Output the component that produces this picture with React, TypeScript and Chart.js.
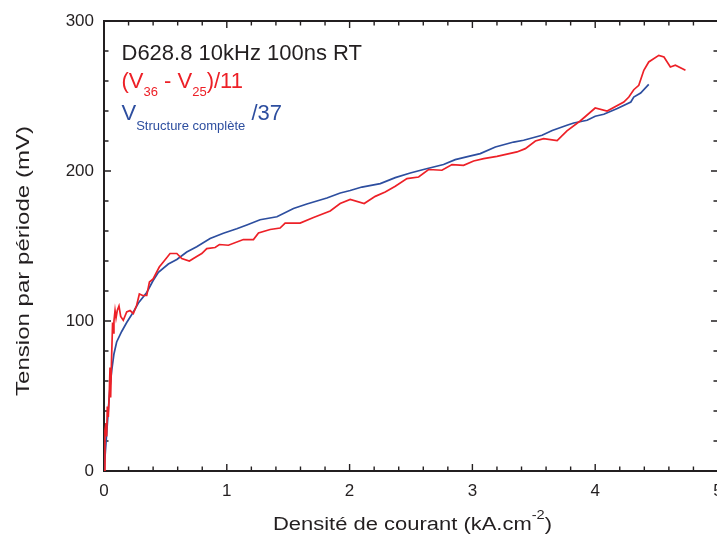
import React, { useEffect, useRef } from 'react';
import { Chart, registerables } from 'chart.js';

Chart.register(...registerables);

// ---- Data ----
const blueX = [0, 0.014, 0.027, 0.038, 0.049, 0.063, 0.081, 0.103, 0.144, 0.185, 0.239, 0.28, 0.348, 0.4, 0.443, 0.524, 0.593, 0.674, 0.755, 0.864, 0.972, 1.081, 1.163, 1.271, 1.408, 1.543, 1.652, 1.815, 1.924, 2.005, 2.1, 2.25, 2.372, 2.494, 2.602, 2.765, 2.86, 2.969, 3.064, 3.187, 3.336, 3.417, 3.567, 3.65, 3.77, 3.825, 3.934, 4.0, 4.07, 4.18, 4.29, 4.314, 4.37, 4.436];
const blueY = [0, 16, 31, 44, 56, 67, 78, 86, 93, 99, 106, 112, 119, 127, 132.5, 138, 141, 146, 149.5, 155, 158.5, 161.5, 164, 167.5, 169.5, 175, 178, 182, 185.3, 187, 189.3, 191.6, 195.6, 198.7, 201, 204.3, 207.6, 209.8, 211.6, 216, 219.3, 220.5, 223.8, 227, 230.5, 232, 233.8, 236.5, 237.8, 241.6, 246, 249.3, 252, 257.8];

const redX = [0, 0.008, 0.016, 0.022, 0.027, 0.035, 0.043, 0.049, 0.054, 0.062, 0.07, 0.075, 0.081, 0.09, 0.098, 0.108, 0.122, 0.136, 0.157, 0.185, 0.212, 0.239, 0.266, 0.288, 0.315, 0.348, 0.37, 0.4, 0.45, 0.483, 0.538, 0.593, 0.633, 0.695, 0.755, 0.796, 0.837, 0.905, 0.94, 1.013, 1.135, 1.217, 1.258, 1.353, 1.434, 1.475, 1.597, 1.706, 1.842, 1.923, 2.005, 2.119, 2.209, 2.29, 2.372, 2.467, 2.562, 2.643, 2.752, 2.834, 2.928, 3.01, 3.092, 3.2, 3.363, 3.431, 3.513, 3.58, 3.69, 3.77, 3.88, 4.0, 4.097, 4.233, 4.274, 4.314, 4.355, 4.396, 4.436, 4.518, 4.56, 4.612, 4.653, 4.735];
const redY = [0, 27, 32, 23, 43, 36, 52, 69, 49, 76, 99, 92, 100, 107, 102, 107, 110, 103, 100.5, 106, 107, 105, 110.5, 118, 117, 117, 126, 128, 136, 139.3, 145, 145, 141.6, 140, 143, 145, 148.3, 149, 151, 150.5, 154.3, 154.3, 158.7, 161, 162, 165.3, 165.3, 169, 173.3, 178.3, 181, 178.3, 183.1, 186, 189.8, 194.9, 196, 201, 200.5, 204.3, 203.8, 206.7, 208.3, 209.8, 212.7, 214.9, 220, 221.6, 220.3, 226.8, 233.5, 242, 240, 246, 249.3, 254.2, 257.1, 267.1, 272.7, 277.1, 276, 269.3, 270.5, 267.1];

// ---- Axes ----
const X_MIN = 0;
const X_MAX = 5;
const X_MAJOR = 1;
const X_MINOR = 0.2;
const Y_MIN = 0;
const Y_MAX = 300;
const Y_MAJOR = 100;
const Y_MINOR = 20;

// ---- Texts ----
const xTitleMain = 'Densité de courant (kA.cm';
const xTitleSup = '-2';
const xTitleEnd = ')';
const yTitle = 'Tension par période (mV)';
const note1 = 'D628.8 10kHz 100ns RT';
const redLabelParts = ['(V', '36', ' - V', '25', ')/11'];
const blueLabelParts = ['V', 'Structure complète', ' /37'];

const RED = '#ED2027';
const BLUE = '#2D4E9F';
const INK = '#231F20';
const FONT = '"Liberation Sans", Arial, Helvetica, sans-serif';

const framePlugin = {
  id: 'frameTicks',
  beforeDatasetsDraw(chart: any) {
    const { ctx, chartArea, scales } = chart;
    const { left, right, top, bottom } = chartArea;
    const xs = scales.x;
    const ys = scales.y;
    ctx.save();
    ctx.strokeStyle = INK;
    ctx.lineWidth = 2;
    ctx.beginPath();
    ctx.rect(left, top, right - left, bottom - top);
    ctx.stroke();
    ctx.lineWidth = 1.4;
    ctx.beginPath();
    const nx = Math.round((X_MAX - X_MIN) / X_MINOR);
    for (let i = 0; i <= nx; i++) {
      const v = X_MIN + i * X_MINOR;
      const r = v / X_MAJOR;
      const major = Math.abs(r - Math.round(r)) < 1e-6;
      const len = major ? 7 : 4.5;
      const px = xs.getPixelForValue(v);
      ctx.moveTo(px, bottom);
      ctx.lineTo(px, bottom - len);
      ctx.moveTo(px, top);
      ctx.lineTo(px, top + len);
    }
    const ny = Math.round((Y_MAX - Y_MIN) / Y_MINOR);
    for (let i = 0; i <= ny; i++) {
      const v = Y_MIN + i * Y_MINOR;
      const r = v / Y_MAJOR;
      const major = Math.abs(r - Math.round(r)) < 1e-6;
      const len = major ? 7 : 4.5;
      const py = ys.getPixelForValue(v);
      ctx.moveTo(left, py);
      ctx.lineTo(left + len, py);
      ctx.moveTo(right, py);
      ctx.lineTo(right - len, py);
    }
    ctx.stroke();
    ctx.restore();
  },
};

function stretchedText(ctx: CanvasRenderingContext2D, text: string, x: number, y: number, sx: number) {
  ctx.save();
  ctx.translate(x, y);
  ctx.scale(sx, 1);
  ctx.fillText(text, 0, 0);
  ctx.restore();
}

const textPlugin = {
  id: 'texts',
  afterDraw(chart: any) {
    const ctx: CanvasRenderingContext2D = chart.ctx;
    ctx.save();
    ctx.textBaseline = 'alphabetic';
    ctx.textAlign = 'left';

    // x title with superscript
    const sxT = 1.22;
    const big = `18px ${FONT}`;
    const small = `12px ${FONT}`;
    ctx.font = big;
    const w1 = ctx.measureText(xTitleMain).width * sxT;
    const w3 = ctx.measureText(xTitleEnd).width * sxT;
    ctx.font = small;
    const w2 = ctx.measureText(xTitleSup).width * sxT;
    const total = w1 + w2 + w3;
    let cx = 412.5 - total / 2;
    const base = 530;
    ctx.fillStyle = INK;
    ctx.font = big;
    stretchedText(ctx, xTitleMain, cx, base, sxT);
    cx += w1;
    ctx.font = small;
    stretchedText(ctx, xTitleSup, cx, base - 11, sxT);
    cx += w2;
    ctx.font = big;
    stretchedText(ctx, xTitleEnd, cx, base, sxT);

    // y title
    ctx.save();
    ctx.translate(28.5, 261);
    ctx.rotate(-Math.PI / 2);
    ctx.scale(1.3, 1);
    ctx.font = `18.5px ${FONT}`;
    ctx.textAlign = 'center';
    ctx.fillText(yTitle, 0, 0);
    ctx.restore();

    // note lines
    const lx = 121.5;
    const mainF = `22px ${FONT}`;
    const subF = `13px ${FONT}`;
    ctx.font = mainF;
    ctx.fillStyle = INK;
    ctx.fillText(note1, lx, 59.5);

    ctx.fillStyle = RED;
    let px = lx;
    redLabelParts.forEach((t, i) => {
      const isSub = i % 2 === 1;
      ctx.font = isSub ? subF : mainF;
      ctx.fillText(t, px, isSub ? 95.5 : 87.5);
      px += ctx.measureText(t).width;
    });

    ctx.fillStyle = BLUE;
    px = lx;
    blueLabelParts.forEach((t, i) => {
      const isSub = i % 2 === 1;
      ctx.font = isSub ? subF : mainF;
      ctx.fillText(t, px, isSub ? 129.5 : 120);
      px += ctx.measureText(t).width;
    });
    ctx.restore();
  },
};

export default function App() {
  const canvasRef = useRef<HTMLCanvasElement | null>(null);

  useEffect(() => {
    const canvas = canvasRef.current;
    if (!canvas) return;
    const redData = redX.map((x, i) => ({ x, y: redY[i] }));
    const blueData = blueX.map((x, i) => ({ x, y: blueY[i] }));
    const chart = new Chart(canvas, {
      type: 'scatter',
      data: {
        datasets: [
          {
            label: '(V36 - V25)/11',
            data: redData,
            showLine: true,
            borderColor: RED,
            backgroundColor: RED,
            borderWidth: 1.7,
            pointRadius: 0,
            tension: 0,
          },
          {
            label: 'V Structure complète /37',
            data: blueData,
            showLine: true,
            borderColor: BLUE,
            backgroundColor: BLUE,
            borderWidth: 1.7,
            pointRadius: 0,
            tension: 0,
          },
        ],
      },
      options: {
        responsive: false,
        animation: false,
        devicePixelRatio: 1,
        layout: { padding: { left: 0, right: 4, top: 21, bottom: 0 } },
        plugins: {
          legend: { display: false },
          tooltip: { enabled: false },
        },
        scales: {
          x: {
            type: 'linear',
            min: X_MIN,
            max: X_MAX,
            grid: { display: false, drawTicks: false },
            border: { display: false },
            ticks: {
              stepSize: X_MAJOR,
              padding: 10,
              maxRotation: 0,
              autoSkip: false,
              color: INK,
              font: { family: FONT, size: 17 },
              callback: (v: any) => String(v),
            },
            afterFit: (s: any) => {
              s.height = 66;
              s.paddingLeft = 0;
              s.paddingRight = 0;
            },
          },
          y: {
            type: 'linear',
            min: Y_MIN,
            max: Y_MAX,
            grid: { display: false, drawTicks: false },
            border: { display: false },
            ticks: {
              stepSize: Y_MAJOR,
              padding: 10,
              color: INK,
              font: { family: FONT, size: 17 },
              callback: (v: any) => String(v),
            },
            afterFit: (s: any) => {
              s.width = 104;
              s.paddingTop = 0;
              s.paddingBottom = 0;
            },
          },
        },
      },
      plugins: [framePlugin, textPlugin],
    });
    return () => chart.destroy();
  }, []);

  return (
    <div
      style={{
        position: 'fixed',
        left: 0,
        top: 0,
        width: 717,
        height: 537,
        overflow: 'hidden',
        background: '#ffffff',
      }}
    >
      <canvas
        ref={canvasRef}
        width={722}
        height={537}
        style={{ width: '722px', height: '537px', display: 'block' }}
      />
    </div>
  );
}
